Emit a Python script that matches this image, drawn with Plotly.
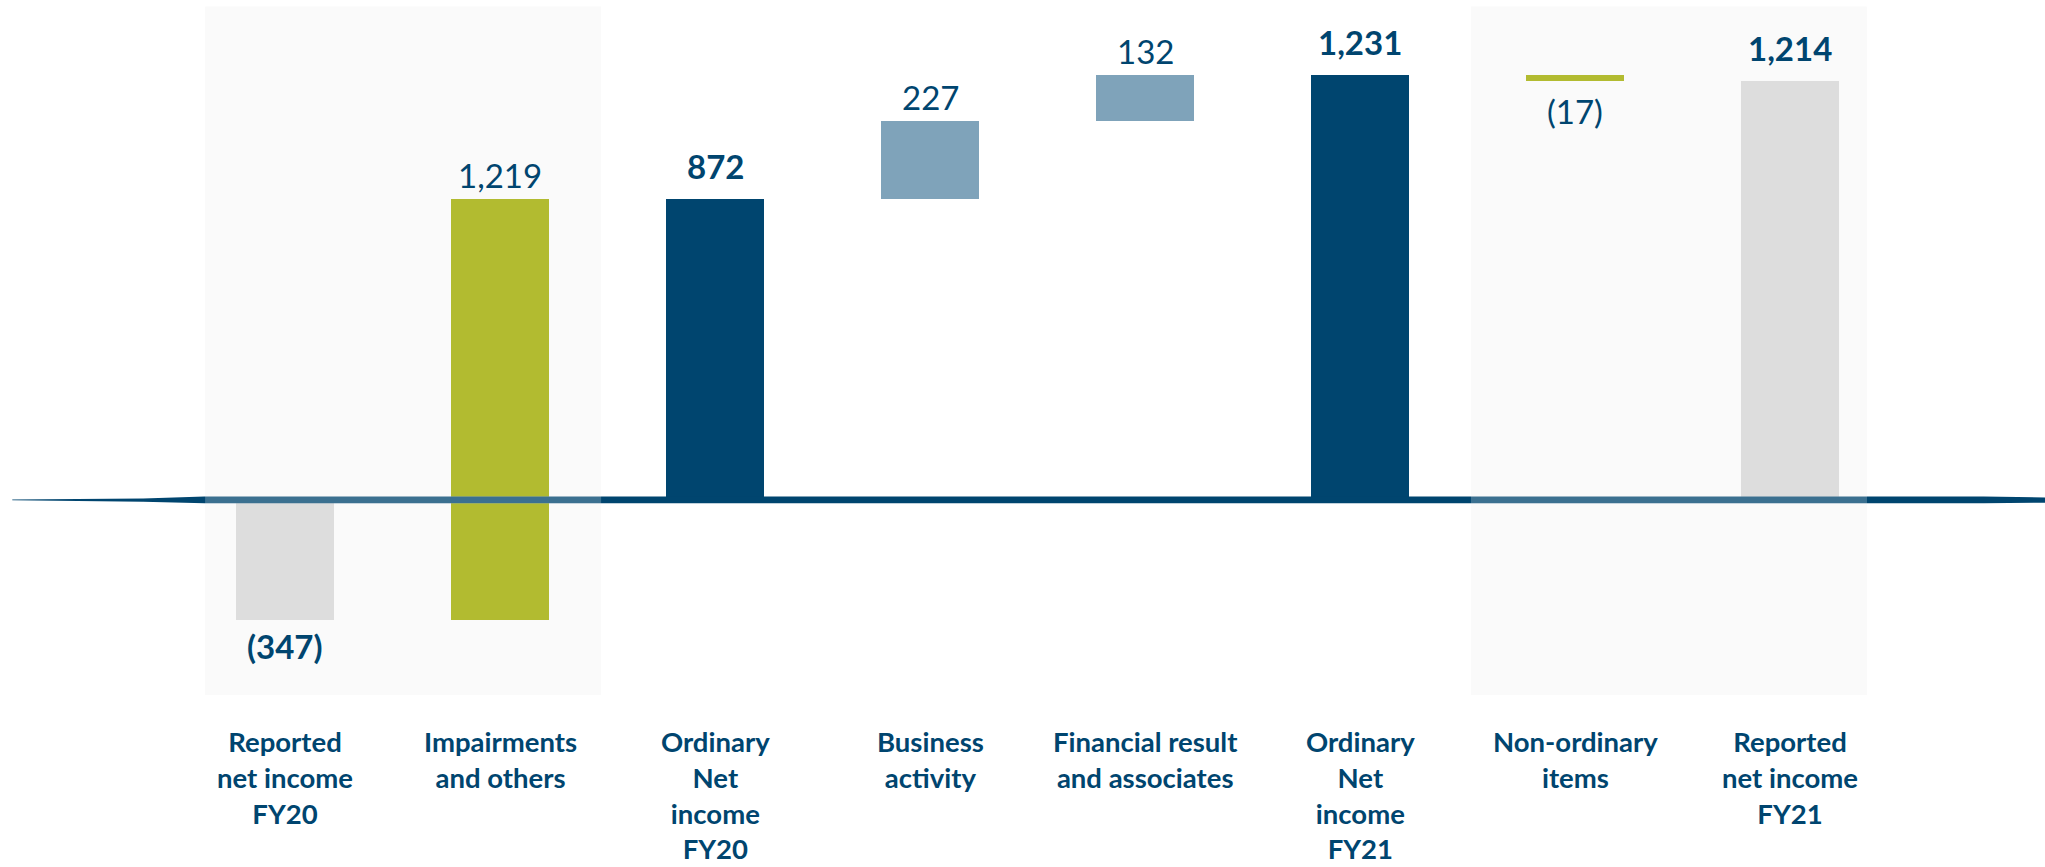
import plotly.graph_objects as go

# Net income bridge FY20 -> FY21 (EUR m)
categories = [
    "Reported<br>net income<br>FY20",
    "Impairments<br>and others",
    "Ordinary<br>Net<br>income<br>FY20",
    "Business<br>activity",
    "Financial result<br>and associates",
    "Ordinary<br>Net<br>income<br>FY21",
    "Non-ordinary<br>items",
    "Reported<br>net income<br>FY21",
]
values = [-347, 1219, 872, 227, 132, 1231, -17, 1214]
is_total = [True, False, True, False, False, True, False, True]
value_labels = ["(347)", "1,219", "872", "227", "132", "1,231", "(17)", "1,214"]
bar_colors = ["#DDDDDD", "#B2BB30", "#00456F", "#7FA3BA",
              "#7FA3BA", "#00456F", "#B2BB30", "#DDDDDD"]

NAVY = "#00456F"
FONT = "Lato"

# bases for the floating bars
bases, heights, running = [], [], 0
for v, tot in zip(values, is_total):
    if tot:
        bases.append(0)
        heights.append(v)
        running = v
    else:
        bases.append(running)
        heights.append(v)
        running += v

xs = list(range(len(categories)))

fig = go.Figure()
fig.add_trace(go.Bar(
    x=xs, y=heights, base=bases, width=0.455,
    marker=dict(color=bar_colors, line=dict(width=0)),
    hoverinfo="skip", showlegend=False,
))

annotations = []
for i, (b, h, lab, tot) in enumerate(zip(bases, heights, value_labels, is_total)):
    top, bottom = max(b, b + h), min(b, b + h)
    txt = f"<b>{lab}</b>" if tot else lab
    if h >= 0:
        annotations.append(dict(
            x=i, y=top, xref="x", yref="y", text=txt, showarrow=False,
            yanchor="bottom", yshift=11 if tot else 2,
            font=dict(family=FONT, size=33, color=NAVY),
        ))
    else:
        annotations.append(dict(
            x=i, y=bottom, xref="x", yref="y", text=txt, showarrow=False,
            yanchor="top", yshift=-4 if tot else -8,
            font=dict(family=FONT, size=33, color=NAVY),
        ))

for i, cat in enumerate(categories):
    annotations.append(dict(
        x=i, y=0.166, xref="x", yref="paper", text=f"<b>{cat}</b>",
        showarrow=False, yanchor="top", align="center",
        font=dict(family=FONT, size=27.5, color=NAVY),
    ))

# shaded panels around the reported figures
panels = [(-0.372, 1.47), (5.516, 7.358)]
shapes = []
for x0, x1 in panels:
    shapes.append(dict(type="rect", xref="x", yref="paper", x0=x0, x1=x1,
                       y0=0.1984, y1=0.9925, fillcolor="#FAFAFA",
                       line=dict(width=0), layer="below"))

# brush-stroke baseline
path = ("M 0.006,1 L 0.07,4 L 0.1,10 L 0.97,10 L 1.0,7 "
        "L 1.0,-8 L 0.97,-10 L 0.1,-10 L 0.07,-5 L 0.006,-1 Z")
shapes.append(dict(type="path", xref="paper", yref="y", path=path,
                   fillcolor=NAVY, line=dict(width=0), layer="above"))
for x0, x1 in panels:
    shapes.append(dict(type="rect", xref="x", yref="y", x0=x0, x1=x1,
                       y0=-11, y1=11, fillcolor="rgba(255,255,255,0.23)",
                       line=dict(width=0), layer="above"))

fig.update_layout(
    width=2045, height=867,
    margin=dict(l=0, r=0, t=0, b=0),
    paper_bgcolor="white", plot_bgcolor="white",
    xaxis=dict(range=[-1.326, 8.186], visible=False, fixedrange=True),
    yaxis=dict(range=[-1064, 1449], visible=False, fixedrange=True),
    annotations=annotations, shapes=shapes,
    bargap=0,
)

fig.write_html("out.html")
